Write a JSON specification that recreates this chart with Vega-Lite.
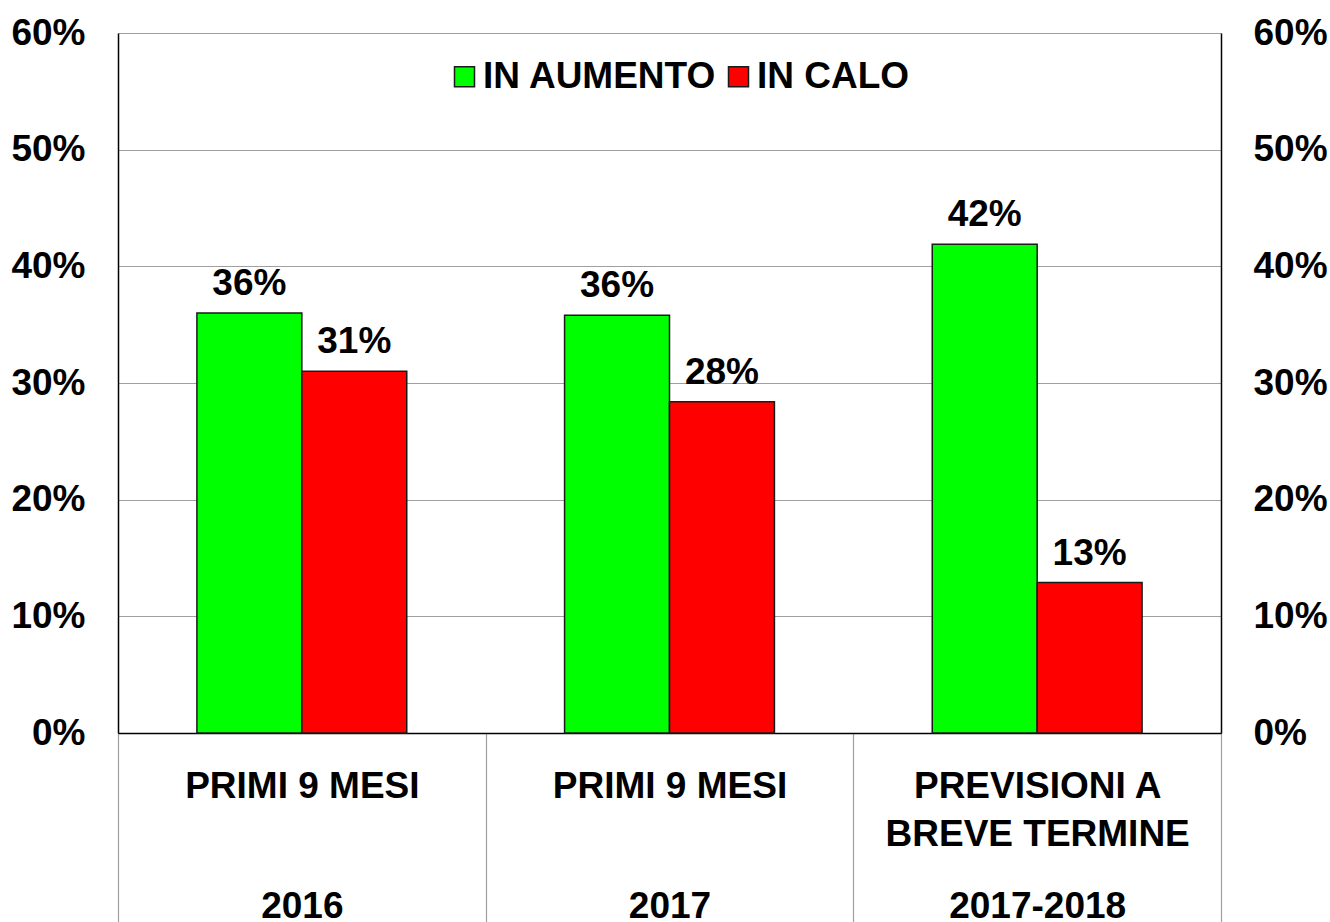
{
  "$schema": "https://vega.github.io/schema/vega-lite/v6.json",
  "width": 1103,
  "height": 700,
  "autosize": {"type": "none"},
  "padding": {"left": 118, "top": 33, "right": 109, "bottom": 189},
  "background": "white",
  "config": {
    "view": {"stroke": null},
    "font": "Liberation Sans",
    "axis": {"labelFont": "Liberation Sans", "labelFontWeight": "bold", "labelColor": "black", "labelFontSize": 37},
    "legend": {"labelFont": "Liberation Sans"}
  },
  "data": {
    "values": [
      {"cat": "2016", "serie": "IN AUMENTO", "v": 0.36},
      {"cat": "2016", "serie": "IN CALO", "v": 0.31},
      {"cat": "2017", "serie": "IN AUMENTO", "v": 0.358},
      {"cat": "2017", "serie": "IN CALO", "v": 0.284},
      {"cat": "2017-2018", "serie": "IN AUMENTO", "v": 0.419},
      {"cat": "2017-2018", "serie": "IN CALO", "v": 0.129}
    ]
  },
  "encoding": {
    "x": {
      "field": "cat", "type": "nominal", "sort": null,
      "scale": {"paddingInner": 0, "paddingOuter": 0},
      "axis": {
        "title": null, "labelAngle": 0, "domainColor": "black", "domainWidth": 1.5,
        "tickBand": "extent", "tickColor": "#a0a0a0", "tickWidth": 1.2, "tickSize": 189,
        "labelBaseline": "alphabetic", "labelPadding": -125, "labelLineHeight": 24,
        "labelLimit": 0, "labelOverlap": false, "labelBound": false, "grid": false,
        "labelExpr": "datum.value == '2016' ? ['PRIMI 9 MESI','\u200b','\u200b','\u200b','\u200b','2016'] : datum.value == '2017' ? ['PRIMI 9 MESI','\u200b','\u200b','\u200b','\u200b','2017'] : datum.value == '2017-2018' ? ['PREVISIONI A','\u200b','BREVE TERMINE','\u200b','\u200b','2017-2018'] : ''"
      }
    },
    "xOffset": {"field": "serie", "type": "nominal", "sort": ["IN AUMENTO", "IN CALO"], "scale": {"paddingInner": 0, "paddingOuter": 0.752}},
    "y": {"field": "v", "type": "quantitative", "scale": {"domain": [0, 0.6], "nice": false}}
  },
  "layer": [
    {
      "mark": {"type": "bar", "stroke": "#1a1a1a", "strokeWidth": 1.5},
      "encoding": {
        "y": {"field": "v", "type": "quantitative", "scale": {"domain": [0, 0.6], "nice": false},
          "axis": {"title": null, "orient": "left", "values": [0, 0.1, 0.2, 0.3, 0.4, 0.5, 0.6], "format": ".0%",
            "grid": true, "gridColor": "#a0a0a0", "gridWidth": 1.2, "ticks": false, "domainColor": "black", "domainWidth": 1.5, "labelPadding": 33}},
        "color": {"field": "serie", "type": "nominal",
          "scale": {"domain": ["IN AUMENTO", "IN CALO"], "range": ["#00ff00", "#ff0000"]},
          "legend": {"title": null, "orient": "none", "legendX": 328, "legendY": 25, "direction": "horizontal",
            "symbolType": "square", "symbolSize": 400, "symbolStrokeColor": "#1a1a1a", "symbolStrokeWidth": 1.5,
            "labelFontSize": 37, "labelFontWeight": "bold", "labelColor": "black", "labelOffset": 0, "columnPadding": 3, "padding": 0, "labelLimit": 0}}
      }
    },
    {
      "mark": {"type": "text", "dy": -18, "baseline": "alphabetic", "fontSize": 37, "fontWeight": "bold", "color": "black", "font": "Liberation Sans"},
      "encoding": {
        "y": {"field": "v", "type": "quantitative", "scale": {"domain": [0, 0.6], "nice": false},
          "axis": {"title": null, "orient": "right", "values": [0, 0.1, 0.2, 0.3, 0.4, 0.5, 0.6], "format": ".0%",
            "grid": false, "ticks": false, "domainColor": "black", "domainWidth": 1.5, "labelPadding": 32}},
        "text": {"field": "v", "type": "quantitative", "format": ".0%"}
      }
    }
  ],
  "resolve": {"axis": {"y": "independent"}}
}
